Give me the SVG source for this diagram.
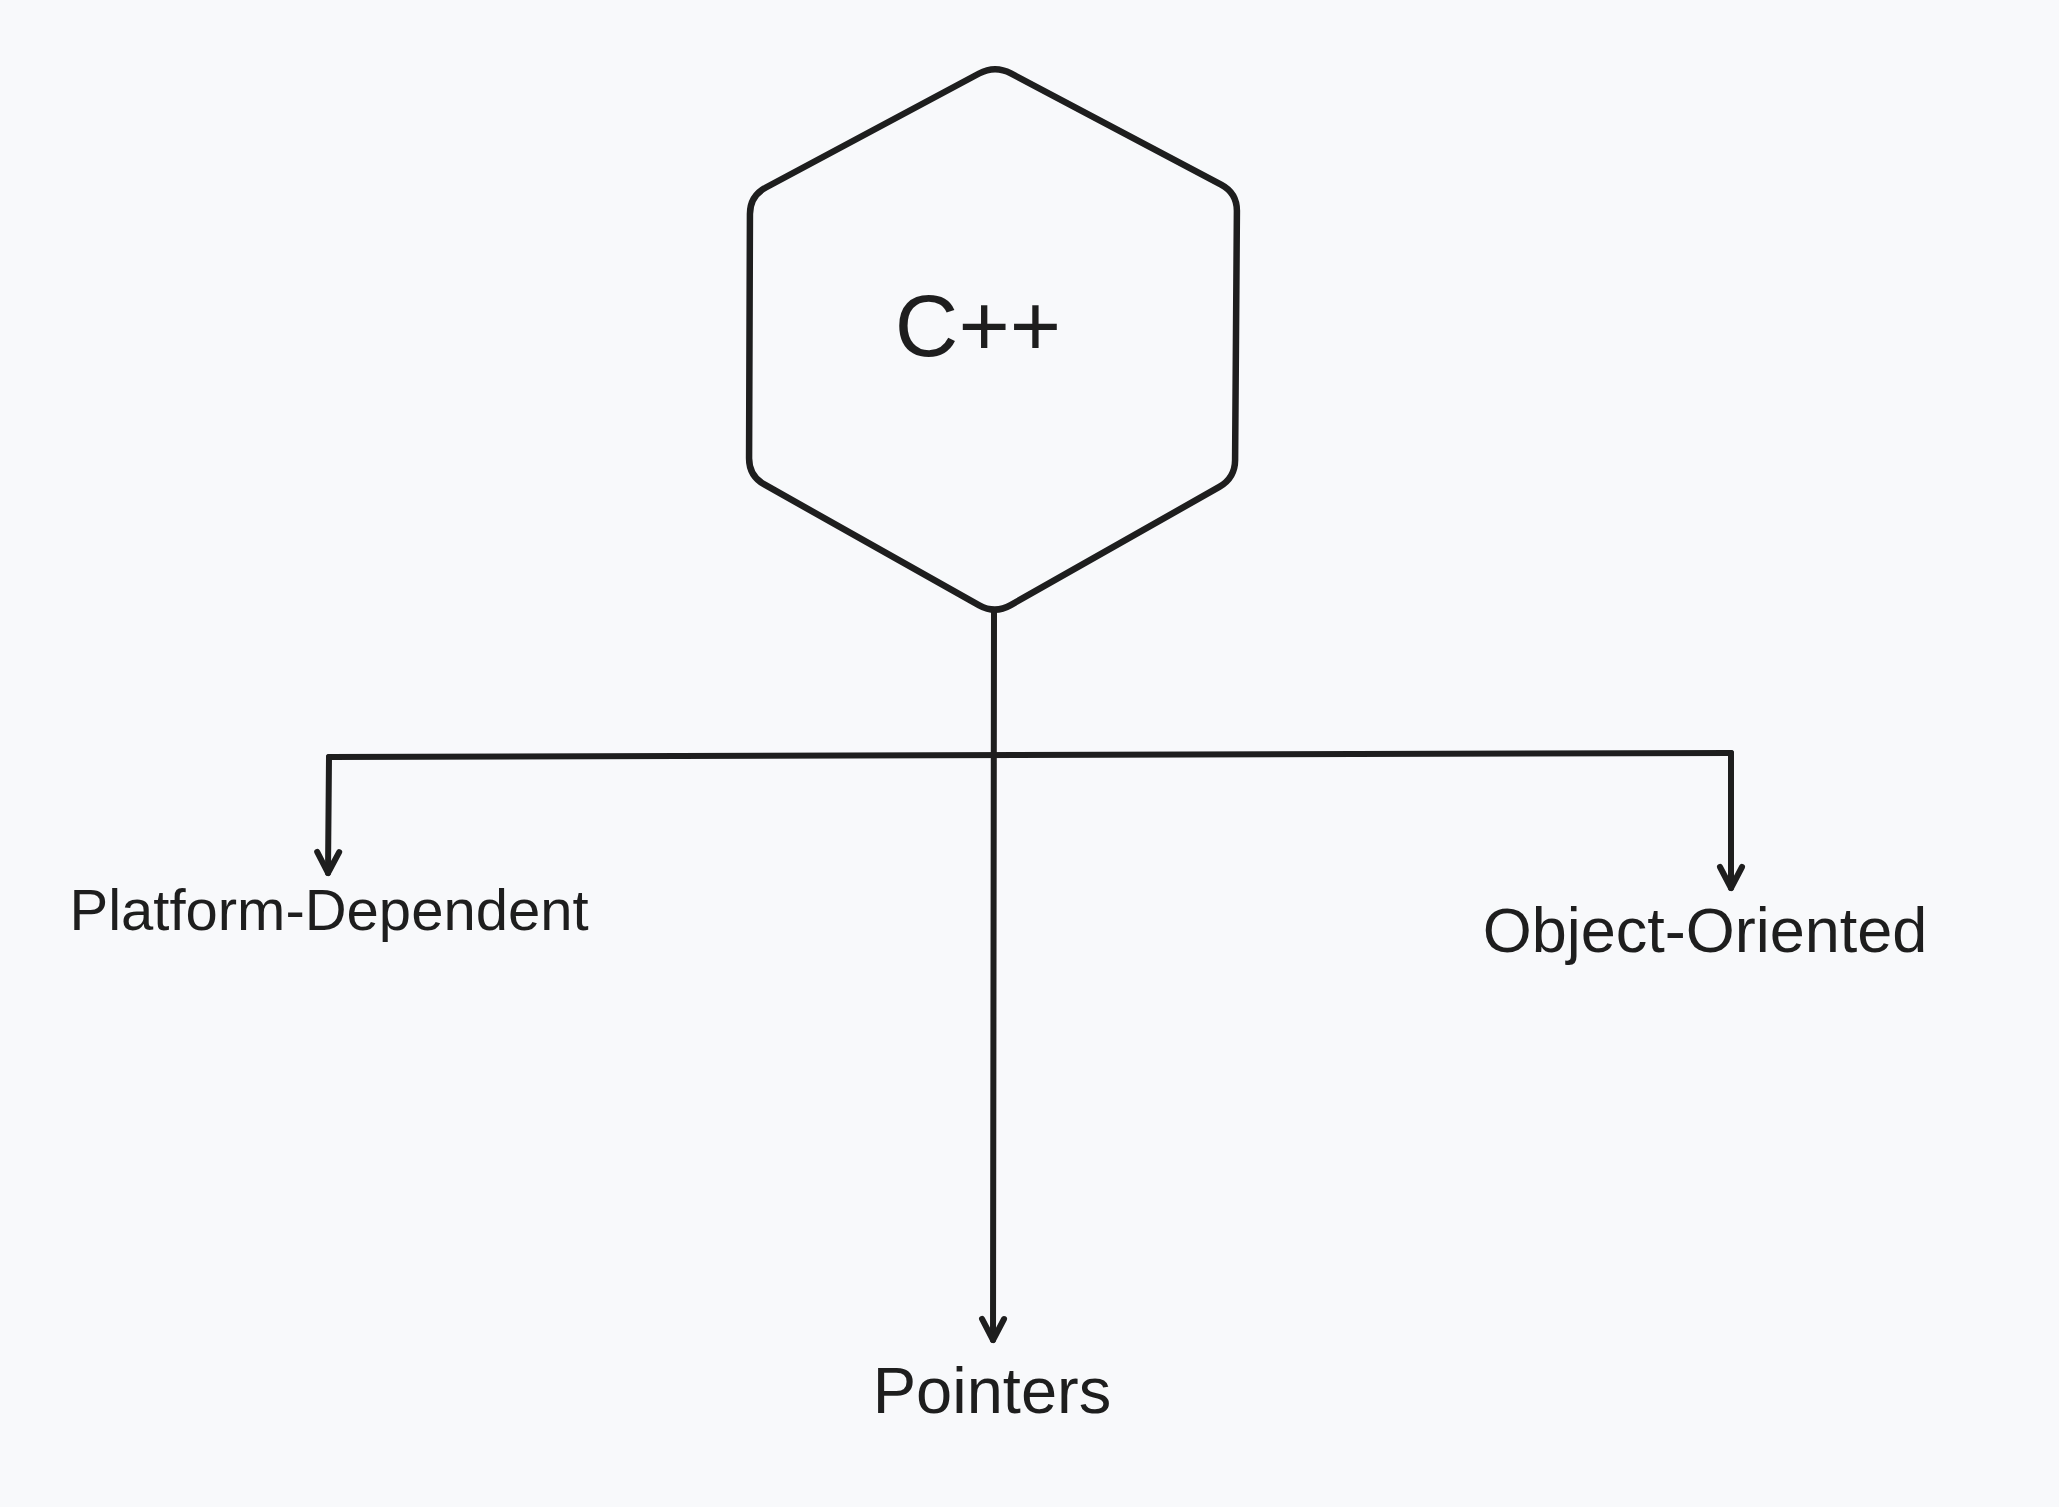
<svg xmlns="http://www.w3.org/2000/svg" width="2059" height="1507" viewBox="0 0 2059 1507">
<style>
.shape{fill:none;stroke:#1e1e1e;stroke-width:6.5;stroke-linejoin:round;stroke-linecap:round}
.conn{fill:none;stroke:#1e1e1e;stroke-width:6;stroke-linecap:round;stroke-linejoin:round}
.lbl{font-family:"Liberation Sans",Arial,sans-serif;fill:#1e1e1e;text-anchor:middle}
</style>
<defs>
<marker id="arr" markerUnits="userSpaceOnUse" orient="auto" refX="0" refY="0" markerWidth="40" markerHeight="40" overflow="visible">
<path d="M -21,-11 L 0,0 L -21,11" fill="none" stroke="#1e1e1e" stroke-width="6" stroke-linecap="round" stroke-linejoin="round"/>
</marker>
</defs>
<rect x="0" y="0" width="2059" height="1507" fill="#f8f9fb"/>
<g id="connectors">
<path class="conn" d="M 994,612 L 993,1340" marker-end="url(#arr)"/>
<path class="conn" d="M 329,757 L 1731,753"/>
<path class="conn" d="M 329,757 L 328,873" marker-end="url(#arr)"/>
<path class="conn" d="M 1731,753 L 1731,888" marker-end="url(#arr)"/>
</g>
<g id="node-cpp">
<path class="shape" d="M 979.1,73.5 Q 995,65 1010.9,73.4 L 1221.1,184.6 Q 1237,193 1236.9,211 L 1235.1,460 Q 1235,478 1219.3,486.9 L 1010.7,605.1 Q 995,614 979.25,605.3 L 764.75,484.7 Q 749,476 749.06,458 L 749.94,214 Q 750,196 765.9,187.5 Z"/>
<text class="lbl" x="978" y="356" font-size="88">C++</text>
</g>
<g id="node-platform">
<text class="lbl" x="329" y="930" font-size="58">Platform-Dependent</text>
</g>
<g id="node-object">
<text class="lbl" x="1705" y="952" font-size="63">Object-Oriented</text>
</g>
<g id="node-pointers">
<text class="lbl" x="992" y="1413" font-size="65">Pointers</text>
</g>
</svg>
